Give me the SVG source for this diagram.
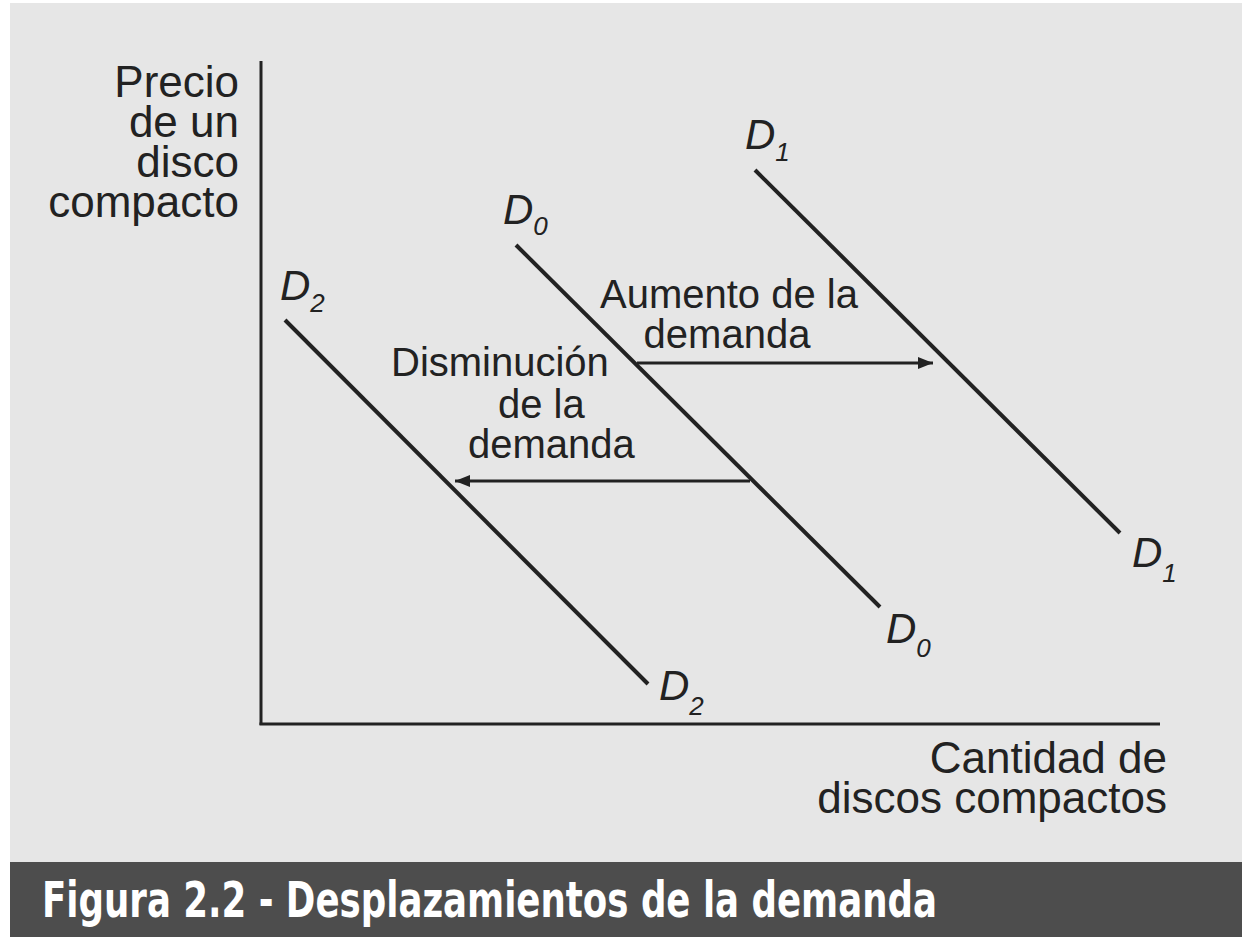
<svg xmlns="http://www.w3.org/2000/svg" width="1242" height="937" viewBox="0 0 1242 937">
<style>
.t{font-family:"Liberation Sans",Arial,sans-serif;fill:#222;}
.ax{font-size:44px;}
.lb{font-size:40px;}
.d{font-family:"Liberation Sans",Arial,sans-serif;fill:#222;font-style:italic;font-size:42px;}
.s{font-size:26px;}
.ln{stroke:#222;stroke-width:4;fill:none;stroke-linecap:butt;}
.ar{stroke:#222;stroke-width:3;fill:none;}
.cap{font-family:"DejaVu Sans Condensed","Liberation Sans Narrow","DejaVu Sans",sans-serif;font-size:50px;font-weight:bold;fill:#fff;}
</style>
<defs>
<marker id="ah" viewBox="0 0 10 10" refX="10" refY="5" markerWidth="5" markerHeight="5" orient="auto" markerUnits="strokeWidth">
<path d="M0,1 L10,5 L0,9 Z" fill="#222"/>
</marker>
</defs>
<rect x="0" y="0" width="1242" height="937" fill="#fff"/>
<rect x="10" y="3" width="1232" height="859" fill="#e6e6e6"/>
<g id="caption">
<rect x="10" y="862" width="1232" height="75" fill="#4d4d4d"/>
<text class="cap" x="42" y="917" textLength="895" lengthAdjust="spacingAndGlyphs">Figura 2.2 - Desplazamientos de la demanda</text>
</g>
<g id="axes">
<line class="ln" x1="261" y1="61" x2="261" y2="725" style="stroke-width:3"/>
<line class="ln" x1="259.5" y1="724" x2="1160" y2="724" style="stroke-width:3"/>
<text class="t ax" text-anchor="end"><tspan x="239" y="97">Precio</tspan><tspan x="239" y="137">de un</tspan><tspan x="239" y="177">disco</tspan><tspan x="239" y="217">compacto</tspan></text>
<text class="t ax" text-anchor="end"><tspan x="1167" y="773">Cantidad de</tspan><tspan x="1167" y="813">discos compactos</tspan></text>
</g>
<g id="D1">
<line class="ln" x1="755" y1="170" x2="1120" y2="533"/>
<text class="d" x="745" y="149">D<tspan class="s" dy="12">1</tspan></text>
<text class="d" x="1132" y="567">D<tspan class="s" dy="15">1</tspan></text>
</g>
<g id="D0">
<line class="ln" x1="516" y1="245" x2="880" y2="607"/>
<text class="d" x="503" y="224">D<tspan class="s" dy="11">0</tspan></text>
<text class="d" x="886" y="643">D<tspan class="s" dy="14">0</tspan></text>
</g>
<g id="D2">
<line class="ln" x1="285" y1="320" x2="648" y2="684"/>
<text class="d" x="280" y="300">D<tspan class="s" dy="12">2</tspan></text>
<text class="d" x="659" y="700">D<tspan class="s" dy="15">2</tspan></text>
</g>
<g id="aumento">
<text class="t lb" text-anchor="middle"><tspan x="729" y="308">Aumento de la</tspan><tspan x="727" y="348">demanda</tspan></text>
</g>
<g id="disminucion">
<text class="t lb"><tspan x="391" y="376">Disminución</tspan><tspan x="498" y="418">de la</tspan><tspan x="468" y="458">demanda</tspan></text>
</g>
<g id="connectors">
<line class="ar" x1="637" y1="363" x2="933" y2="363" marker-end="url(#ah)"/>
<line class="ar" x1="750" y1="481" x2="455" y2="481" marker-end="url(#ah)"/>
</g>
</svg>
